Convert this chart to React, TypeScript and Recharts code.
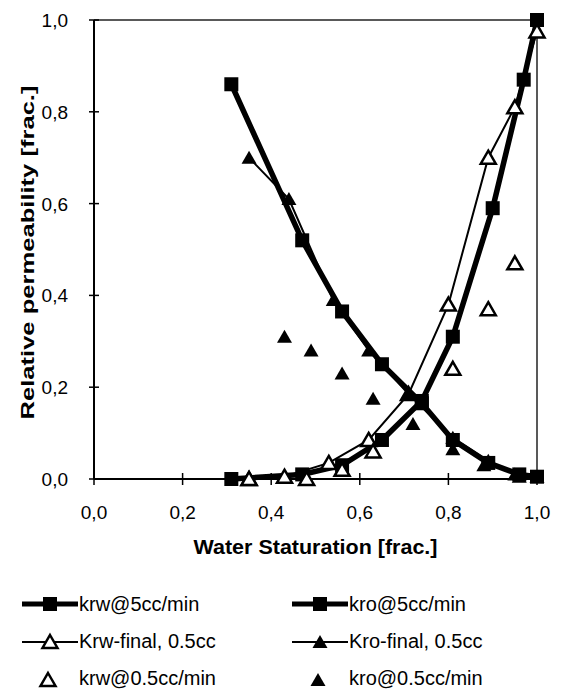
import React from 'react';
import { ScatterChart, Scatter, XAxis, YAxis, ReferenceLine } from 'recharts';

// water saturation / relative permeability
const swKrw5 = [0.31, 0.47, 0.56, 0.65, 0.74, 0.81, 0.9, 0.97, 1.0];
const krw5 = [0.0, 0.01, 0.03, 0.085, 0.17, 0.31, 0.59, 0.87, 1.0];

const swKro5 = [0.31, 0.47, 0.56, 0.65, 0.74, 0.81, 0.89, 0.96, 1.0];
const kro5 = [0.86, 0.52, 0.365, 0.25, 0.165, 0.085, 0.035, 0.01, 0.005];

const swKrwFinal = [0.35, 0.43, 0.53, 0.62, 0.71, 0.8, 0.89, 0.95, 1.0];
const krwFinal = [0.0, 0.005, 0.035, 0.085, 0.185, 0.38, 0.7, 0.81, 0.975];

const swKroFinal = [0.35, 0.44, 0.54, 0.62, 0.71, 0.81, 0.89, 0.95, 1.0];
const kroFinal = [0.7, 0.61, 0.39, 0.28, 0.185, 0.09, 0.04, 0.01, 0.005];

const swKrwSlow = [0.35, 0.48, 0.56, 0.63, 0.81, 0.89, 0.95];
const krwSlow = [0.0, 0.0, 0.02, 0.06, 0.24, 0.37, 0.47];

const swKroSlow = [0.43, 0.49, 0.56, 0.63, 0.72, 0.81, 0.88, 0.96];
const kroSlow = [0.31, 0.28, 0.23, 0.175, 0.12, 0.065, 0.03, 0.005];

const ticks = [0, 0.2, 0.4, 0.6, 0.8, 1.0];

const legendLabels = [
  'krw@5cc/min',
  'kro@5cc/min',
  'Krw-final, 0.5cc',
  'Kro-final, 0.5cc',
  'krw@0.5cc/min',
  'kro@0.5cc/min',
];

const pts = (xs: number[], ys: number[]) => xs.map((x, i) => ({ x, y: ys[i] }));

const FONT = '"Liberation Sans", Arial, Helvetica, sans-serif';
const fmt = (v: number) => v.toFixed(1).replace('.', ',');

// plot box edges (px)
const LEFT = 94;
const BOTTOM = 479;

const Square = (props: any) => {
  const { cx, cy } = props;
  if (cx == null || cy == null) return null;
  return <rect x={cx - 7} y={cy - 7} width={14} height={14} fill="#000" />;
};

const Tri = ({ cx, cy, hollow }: { cx: number; cy: number; hollow?: boolean }) => {
  if (cx == null || cy == null) return null;
  const d = `M${cx},${cy - 7} L${cx + 7.5},${cy + 6} L${cx - 7.5},${cy + 6} Z`;
  return hollow ? (
    <path d={d} fill="#fff" stroke="#000" strokeWidth={2.5} strokeLinejoin="miter" />
  ) : (
    <path d={d} fill="#000" />
  );
};

const FilledTri = (props: any) => <Tri cx={props.cx} cy={props.cy} />;
const HollowTri = (props: any) => <Tri cx={props.cx} cy={props.cy} hollow />;

const YTick = (props: any) => {
  const { y, payload } = props;
  return (
    <g>
      <line x1={LEFT - 5} x2={LEFT + 5} y1={y} y2={y} stroke="#000" strokeWidth={1.5} />
      <text x={LEFT - 26} y={y + 7} textAnchor="end" fontSize={19} fontFamily={FONT} fill="#000">
        {fmt(payload.value)}
      </text>
    </g>
  );
};

const XTick = (props: any) => {
  const { x, payload } = props;
  return (
    <g>
      <line x1={x} x2={x} y1={BOTTOM - 6} y2={BOTTOM + 6} stroke="#000" strokeWidth={1.5} />
      <text x={x} y={BOTTOM + 40} textAnchor="middle" fontSize={19} fontFamily={FONT} fill="#000">
        {fmt(payload.value)}
      </text>
    </g>
  );
};

const LegendSample = ({ kind }: { kind: number }) => (
  <svg width={60} height={20} style={{ display: 'block' }}>
    {kind === 0 && (
      <>
        <line x1={2} x2={58} y1={10} y2={10} stroke="#000" strokeWidth={5} />
        <rect x={23} y={3} width={14} height={14} fill="#000" />
      </>
    )}
    {kind === 1 && (
      <>
        <line x1={2} x2={58} y1={11} y2={11} stroke="#000" strokeWidth={2} />
        <Tri cx={30} cy={11} />
      </>
    )}
    {kind === 2 && (
      <>
        <line x1={2} x2={58} y1={11} y2={11} stroke="#000" strokeWidth={2} />
        <Tri cx={30} cy={11} hollow />
      </>
    )}
    {kind === 3 && <Tri cx={28} cy={12} />}
    {kind === 4 && <Tri cx={28} cy={12} hollow />}
  </svg>
);

const legendKinds = [0, 0, 2, 1, 4, 3];

export default function App() {
  return (
    <div style={{ position: 'absolute', left: 0, top: 0, width: 561, height: 694, background: '#fff' }}>
      <ScatterChart width={561} height={694} margin={{ top: 20, right: 24, bottom: 0, left: 0 }}>
        <XAxis
          type="number"
          dataKey="x"
          domain={[0, 1]}
          ticks={ticks}
          tickSize={0}
          tickMargin={25}
          tickLine={false}
          height={215}
          axisLine={{ stroke: '#000', strokeWidth: 2 }}
          tick={<XTick />}
          label={{
            content: (p: any) => {
              const vb = p.viewBox;
              return (
                <text
                  x={vb.x + vb.width / 2}
                  y={vb.y + 75}
                  textAnchor="middle"
                  fontSize={20}
                  fontWeight="bold"
                  fontFamily={FONT}
                  textLength={244}
                  lengthAdjust="spacingAndGlyphs"
                >
                  Water Staturation [frac.]
                </text>
              );
            },
          }}
        />
        <YAxis
          type="number"
          dataKey="y"
          domain={[0, 1]}
          ticks={ticks}
          tickSize={0}
          tickMargin={25}
          tickLine={false}
          width={94}
          axisLine={{ stroke: '#000', strokeWidth: 2 }}
          tick={<YTick />}
          label={{
            content: (p: any) => {
              const vb = p.viewBox;
              const cy = vb.y + vb.height / 2 + 3;
              return (
                <text
                  x={34}
                  y={cy}
                  transform={`rotate(-90 34 ${cy})`}
                  textAnchor="middle"
                  fontSize={18}
                  fontWeight="bold"
                  fontFamily={FONT}
                  textLength={334}
                  lengthAdjust="spacingAndGlyphs"
                >
                  Relative permeability [frac.]
                </text>
              );
            },
          }}
        />
        <ReferenceLine y={1} stroke="#222" strokeWidth={1.5} />
        <ReferenceLine x={1} stroke="#222" strokeWidth={1.5} />

        <Scatter
          data={pts(swKro5, kro5)}
          line={{ stroke: '#000', strokeWidth: 5.5 }}
          shape={Square}
          isAnimationActive={false}
        />
        <Scatter
          data={pts(swKrw5, krw5)}
          line={{ stroke: '#000', strokeWidth: 5.5 }}
          shape={Square}
          isAnimationActive={false}
        />
        <Scatter
          data={pts(swKrwFinal, krwFinal)}
          line={{ stroke: '#000', strokeWidth: 2 }}
          shape={HollowTri}
          isAnimationActive={false}
        />
        <Scatter
          data={pts(swKroFinal, kroFinal)}
          line={{ stroke: '#000', strokeWidth: 2 }}
          shape={FilledTri}
          isAnimationActive={false}
        />
        <Scatter data={pts(swKrwSlow, krwSlow)} shape={HollowTri} isAnimationActive={false} />
        <Scatter data={pts(swKroSlow, kroSlow)} shape={FilledTri} isAnimationActive={false} />
      </ScatterChart>

      <div
        style={{
          position: 'absolute',
          left: 20,
          top: 593,
          display: 'grid',
          gridTemplateColumns: '270px 220px',
          rowGap: 15,
          fontFamily: FONT,
          fontSize: 20,
        }}
      >
        {legendLabels.map((label, i) => (
          <div key={label} style={{ display: 'flex', alignItems: 'center', height: 22 }}>
            <LegendSample kind={legendKinds[i]} />
            <span style={{ marginLeft: -1 }}>{label}</span>
          </div>
        ))}
      </div>
    </div>
  );
}
